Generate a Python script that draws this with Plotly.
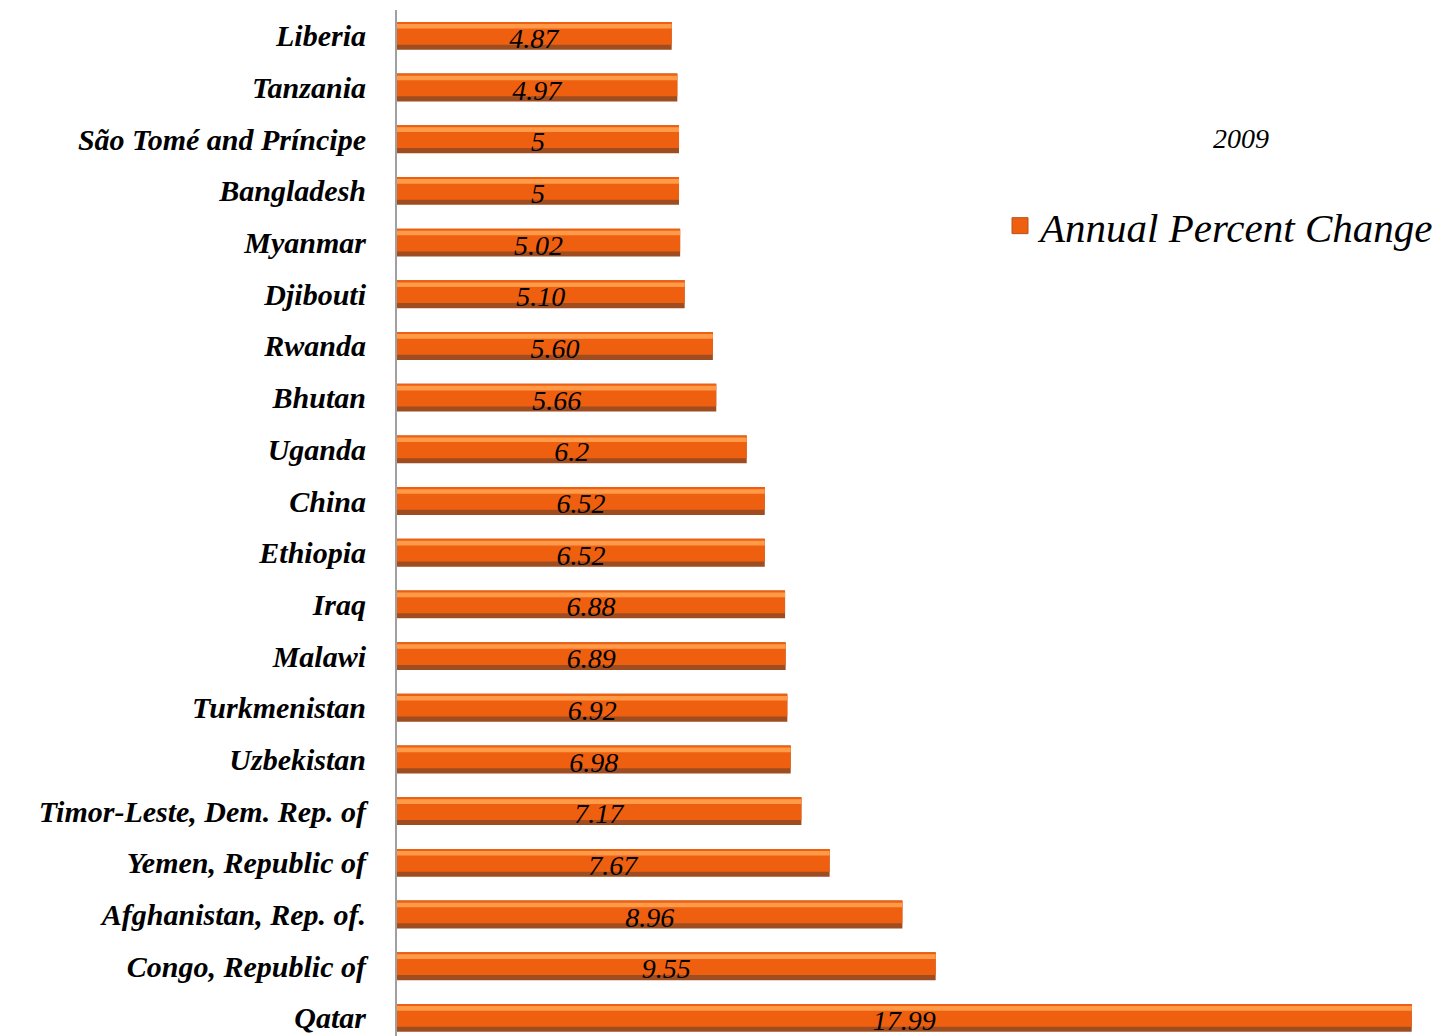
import plotly.graph_objects as go

countries = [
    "Liberia", "Tanzania", "São Tomé and Príncipe", "Bangladesh", "Myanmar",
    "Djibouti", "Rwanda", "Bhutan", "Uganda", "China", "Ethiopia", "Iraq",
    "Malawi", "Turkmenistan", "Uzbekistan", "Timor-Leste, Dem. Rep. of",
    "Yemen, Republic of", "Afghanistan, Rep. of.", "Congo, Republic of", "Qatar",
]
values = [4.87, 4.97, 5.0, 5.0, 5.02, 5.10, 5.60, 5.66, 6.2, 6.52, 6.52, 6.88,
          6.89, 6.92, 6.98, 7.17, 7.67, 8.96, 9.55, 17.99]
value_labels = ["4.87", "4.97", "5", "5", "5.02", "5.10", "5.60", "5.66", "6.2",
                "6.52", "6.52", "6.88", "6.89", "6.92", "6.98", "7.17", "7.67",
                "8.96", "9.55", "17.99"]
series_name = "Annual Percent Change"
title_text = "2009"

FONT = "Liberation Serif"
PAGE_OFF = 8  # browser default body margin
W, H = 1450 - PAGE_OFF, 1036 - PAGE_OFF

fig = go.Figure()

# dark base (bottom shadow of the bevelled bar)
fig.add_trace(go.Bar(
    y=countries, x=values, orientation="h",
    width=0.54, offset=-0.27,
    marker=dict(color="#9E4C20", line=dict(width=0)),
    showlegend=False, hoverinfo="skip",
))
# main orange body
fig.add_trace(go.Bar(
    y=countries, x=values, orientation="h",
    width=0.44, offset=-0.27,
    marker=dict(color="#EE6010", line=dict(width=0)),
    showlegend=False, hoverinfo="skip",
))
# light highlight stripe
fig.add_trace(go.Bar(
    y=countries, x=values, orientation="h",
    width=0.09, offset=-0.23,
    marker=dict(color="#FF9A48", line=dict(width=0)),
    showlegend=False, hoverinfo="skip",
))
# labels
fig.add_trace(go.Bar(
    y=countries, x=values, orientation="h",
    width=0.54, offset=-0.22,
    marker=dict(color="rgba(0,0,0,0)", line=dict(width=0)),
    text=value_labels, textposition="inside", insidetextanchor="middle",
    constraintext="none", textangle=0, cliponaxis=False,
    textfont=dict(family=FONT, size=28, color="black", style="italic"),
    showlegend=False, name=series_name,
))
# legend entry
fig.add_trace(go.Scatter(
    x=[None], y=[None], mode="markers", name=series_name,
    marker=dict(symbol="square", size=16, color="#EE6010",
                line=dict(color="#B5531C", width=1)),
    showlegend=True,
))

fig.update_layout(
    width=W, height=H,
    margin=dict(l=397 - PAGE_OFF, r=5, t=10 - PAGE_OFF, b=0),
    paper_bgcolor="white", plot_bgcolor="white",
    barmode="overlay",
    font=dict(family=FONT, color="black"),
    title=dict(text=title_text, x=(1241 - PAGE_OFF) / W, y=1 - (138 - PAGE_OFF) / H,
               xanchor="center", yanchor="middle",
               font=dict(family=FONT, size=28, color="black", style="italic")),
    legend=dict(x=(1000 - 397) / 1048, y=1 - (226 - 10) / 1026,
                xanchor="left", yanchor="middle",
                font=dict(family=FONT, size=41, color="black", style="italic"),
                bgcolor="rgba(0,0,0,0)", itemsizing="trace"),
    xaxis=dict(range=[0, 18.58], visible=False, showgrid=False, zeroline=False),
    yaxis=dict(type="category", range=[19.35, -0.5], showgrid=False,
               zeroline=False, showline=True, linecolor="#A0A0A0", linewidth=2,
               ticks="", ticklabelstandoff=23,
               tickfont=dict(family=FONT, size=30, color="black",
                             style="italic", weight="bold")),
)

fig.write_html("out.html")
